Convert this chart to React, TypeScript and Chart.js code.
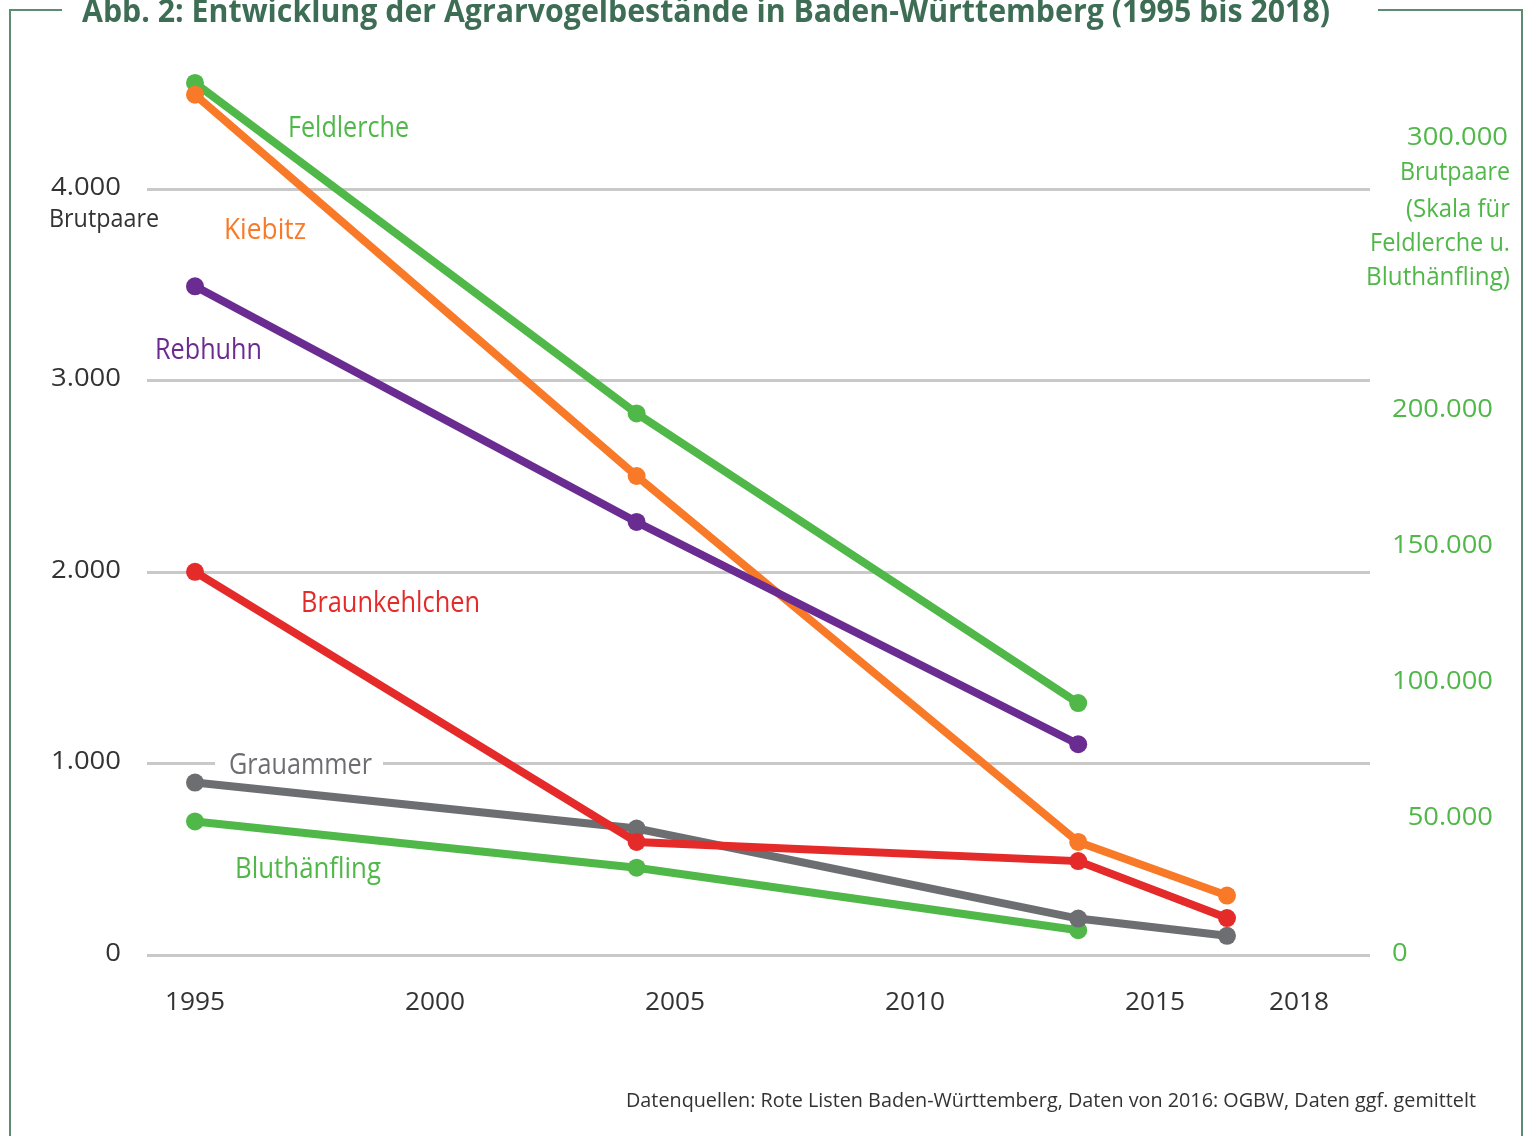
import React, { useEffect, useRef } from "react";
import { Chart, registerables } from "chart.js";

Chart.register(...registerables);

// Survey years (Rote Listen periods and the 2016 OGBW count)
const years = [1995, 2004.2, 2013.4, 2016.5];

// Breeding pairs, left scale
const kiebitz = [4490, 2500, 590, 310];
const rebhuhn = [3490, 2260, 1100];
const braunkehlchen = [2000, 590, 490, 193];
const grauammer = [900, 660, 190, 100];

// Breeding pairs, right scale
const feldlerche = [319500, 198000, 91500];
const bluthaenfling = [48000, 31000, 8000];

// Axis labels
const yearTicks = [1995, 2000, 2005, 2010, 2015, 2018];
const leftTicks = [0, 1000, 2000, 3000, 4000];
const rightTicks = [0, 50000, 100000, 150000, 200000, 300000];

const TITLE = "Abb. 2: Entwicklung der Agrarvogelbestände in Baden-Württemberg (1995 bis 2018)";
const SOURCE = "Datenquellen: Rote Listen Baden-Württemberg, Daten von 2016: OGBW, Daten ggf. gemittelt";
const RIGHT_UNIT = ["Brutpaare", "(Skala für", "Feldlerche u.", "Bluthänfling)"];

const GREEN = "#50b848";
const ORANGE = "#f87a28";
const PURPLE = "#6a2c91";
const RED = "#e52a2a";
const GRAY = "#6d6e72";
const TEXT = "#333333";
const TITLE_GREEN = "#3d6e55";
const FRAME = "#5e8c72";
const GRID = "#c9c9c9";

const FONT = '"Open Sans", "DejaVu Sans", sans-serif';

const fmt = (v: number) => String(v).replace(/\B(?=(\d{3})+(?!\d))/g, ".");

const pts = (ys: number[]) => ys.map((y, i) => ({ x: years[i], y }));

function naturalWidth(ctx: CanvasRenderingContext2D, text: string, size: number, weight = 400) {
  ctx.save();
  ctx.font = `${weight} ${size}px ${FONT}`;
  const w = ctx.measureText(text).width;
  ctx.restore();
  return w;
}

// Draws text at a baseline derived from its visual centre, optionally squeezed horizontally.
function drawText(
  ctx: CanvasRenderingContext2D,
  text: string,
  x: number,
  cy: number,
  o: { size: number; color: string; align: CanvasTextAlign; weight?: number; sx?: number; width?: number; baseline?: boolean }
) {
  const weight = o.weight ?? 400;
  ctx.save();
  ctx.font = `${weight} ${o.size}px ${FONT}`;
  ctx.fillStyle = o.color;
  ctx.textAlign = o.align;
  ctx.textBaseline = "alphabetic";
  let sx = o.sx ?? 1;
  if (o.width) sx = o.width / ctx.measureText(text).width;
  const y = o.baseline ? cy : cy + o.size * 0.36;
  ctx.translate(x, y);
  ctx.scale(sx, 1);
  ctx.fillText(text, 0, 0);
  ctx.restore();
}

const decorations = {
  id: "decorations",
  beforeDatasetsDraw(chart: any) {
    const { ctx, chartArea, scales } = chart;
    const y = scales.y;
    ctx.save();
    ctx.strokeStyle = GRID;
    ctx.lineWidth = 3;
    leftTicks.forEach((v) => {
      const py = Math.round(y.getPixelForValue(v)) + 0.5;
      ctx.beginPath();
      ctx.moveTo(chartArea.left, py);
      ctx.lineTo(chartArea.right, py);
      ctx.stroke();
    });
    ctx.restore();

    // Grauammer label sits on the 1.000 gridline with a white knock-out
    const gy = y.getPixelForValue(1000);
    ctx.save();
    ctx.fillStyle = "#ffffff";
    ctx.fillRect(215, gy - 6, 168, 12);
    ctx.restore();
    drawText(ctx, "Grauammer", 229, gy, { size: 29, color: GRAY, align: "left", width: 143 });
  },
  afterDraw(chart: any) {
    const { ctx, scales } = chart;
    const x = scales.x;
    const y = scales.y;
    const y1 = scales.y1;

    // Frame and title
    ctx.save();
    ctx.strokeStyle = FRAME;
    ctx.lineWidth = 2;
    ctx.beginPath();
    ctx.moveTo(62, 10);
    ctx.lineTo(10, 10);
    ctx.lineTo(10, 1136);
    ctx.moveTo(1378, 10);
    ctx.lineTo(1522, 10);
    ctx.lineTo(1522, 1136);
    ctx.stroke();
    ctx.restore();
    drawText(ctx, TITLE, 82, 22, { size: 33, weight: 700, color: TITLE_GREEN, align: "left", width: 1248, baseline: true });

    // Left axis
    const lsx = 70 / naturalWidth(ctx, "4.000", 25);
    leftTicks.forEach((v) => {
      drawText(ctx, fmt(v), 121, y.getPixelForValue(v) - 3, { size: 25, color: TEXT, align: "right", sx: lsx });
    });
    drawText(ctx, "Brutpaare", 49, 218, { size: 25, color: TEXT, align: "left", width: 110 });

    // Right axis (Feldlerche, Bluthänfling)
    const rsx = 101 / naturalWidth(ctx, "200.000", 25);
    rightTicks.forEach((v) => {
      const py = y1.getPixelForValue(v);
      if (v === 0) {
        drawText(ctx, fmt(v), 1392, py, { size: 25, color: GREEN, align: "left", sx: rsx });
      } else if (v === 300000) {
        drawText(ctx, fmt(v), 1508, py, { size: 25, color: GREEN, align: "right", sx: rsx });
      } else {
        drawText(ctx, fmt(v), 1493, py, { size: 25, color: GREEN, align: "right", sx: rsx });
      }
    });
    const unitY = [171, 208, 242, 276];
    const unitW = [110, 104, 140, 144];
    RIGHT_UNIT.forEach((t, i) => {
      drawText(ctx, t, 1510, unitY[i], { size: 25, color: GREEN, align: "right", width: unitW[i] });
    });

    // Year axis
    const xsx = 60 / naturalWidth(ctx, "1995", 25);
    yearTicks.forEach((v) => {
      drawText(ctx, String(v), x.getPixelForValue(v), 1001, { size: 25, color: TEXT, align: "center", sx: xsx });
    });

    // Series labels
    drawText(ctx, "Feldlerche", 288, 127, { size: 29, color: GREEN, align: "left", width: 121 });
    drawText(ctx, "Kiebitz", 224, 229, { size: 29, color: ORANGE, align: "left", width: 82 });
    drawText(ctx, "Rebhuhn", 155, 349, { size: 29, color: PURPLE, align: "left", width: 107 });
    drawText(ctx, "Braunkehlchen", 301, 602, { size: 29, color: RED, align: "left", width: 179 });
    drawText(ctx, "Bluthänfling", 235, 868, { size: 29, color: GREEN, align: "left", width: 146 });

    // Source note
    drawText(ctx, SOURCE, 626, 1100, { size: 20, color: TEXT, align: "left", width: 850 });
  },
};

function series(label: string, data: number[], color: string, axis: string) {
  return {
    label,
    data: pts(data),
    yAxisID: axis,
    borderColor: color,
    backgroundColor: color,
    borderWidth: 8,
    pointRadius: 9,
    pointBorderWidth: 0,
    pointBackgroundColor: color,
    tension: 0,
    fill: false,
    clip: false as any,
  };
}

export default function App() {
  const canvasRef = useRef<HTMLCanvasElement | null>(null);

  useEffect(() => {
    if (!canvasRef.current) return;
    const chart = new Chart(canvasRef.current, {
      type: "line",
      data: {
        datasets: [
          series("Braunkehlchen", braunkehlchen, RED, "y"),
          series("Rebhuhn", rebhuhn, PURPLE, "y"),
          series("Kiebitz", kiebitz, ORANGE, "y"),
          series("Grauammer", grauammer, GRAY, "y"),
          series("Feldlerche", feldlerche, GREEN, "y1"),
          series("Bluthänfling", bluthaenfling, GREEN, "y1"),
        ] as any,
      },
      options: {
        responsive: false,
        animation: false,
        devicePixelRatio: 1,
        layout: { padding: { left: 147, right: 154, top: 60, bottom: 181 } },
        plugins: {
          legend: { display: false },
          tooltip: { enabled: false },
          title: { display: false },
        },
        scales: {
          x: { type: "linear", display: false, min: 1994, max: 1994 + 1223 / 48 },
          y: { type: "linear", display: false, min: 0, max: 895 / 0.1916 },
          y1: { type: "linear", display: false, position: "right", min: -1103, max: -1103 + 895 * (50000 / 136) },
        },
      },
      plugins: [decorations],
    });
    return () => chart.destroy();
  }, []);

  return (
    <div style={{ position: "absolute", left: 0, top: 0, width: 1524, height: 1136, background: "#ffffff" }}>
      <canvas ref={canvasRef} width={1524} height={1136} style={{ display: "block", width: 1524, height: 1136 }} />
    </div>
  );
}
